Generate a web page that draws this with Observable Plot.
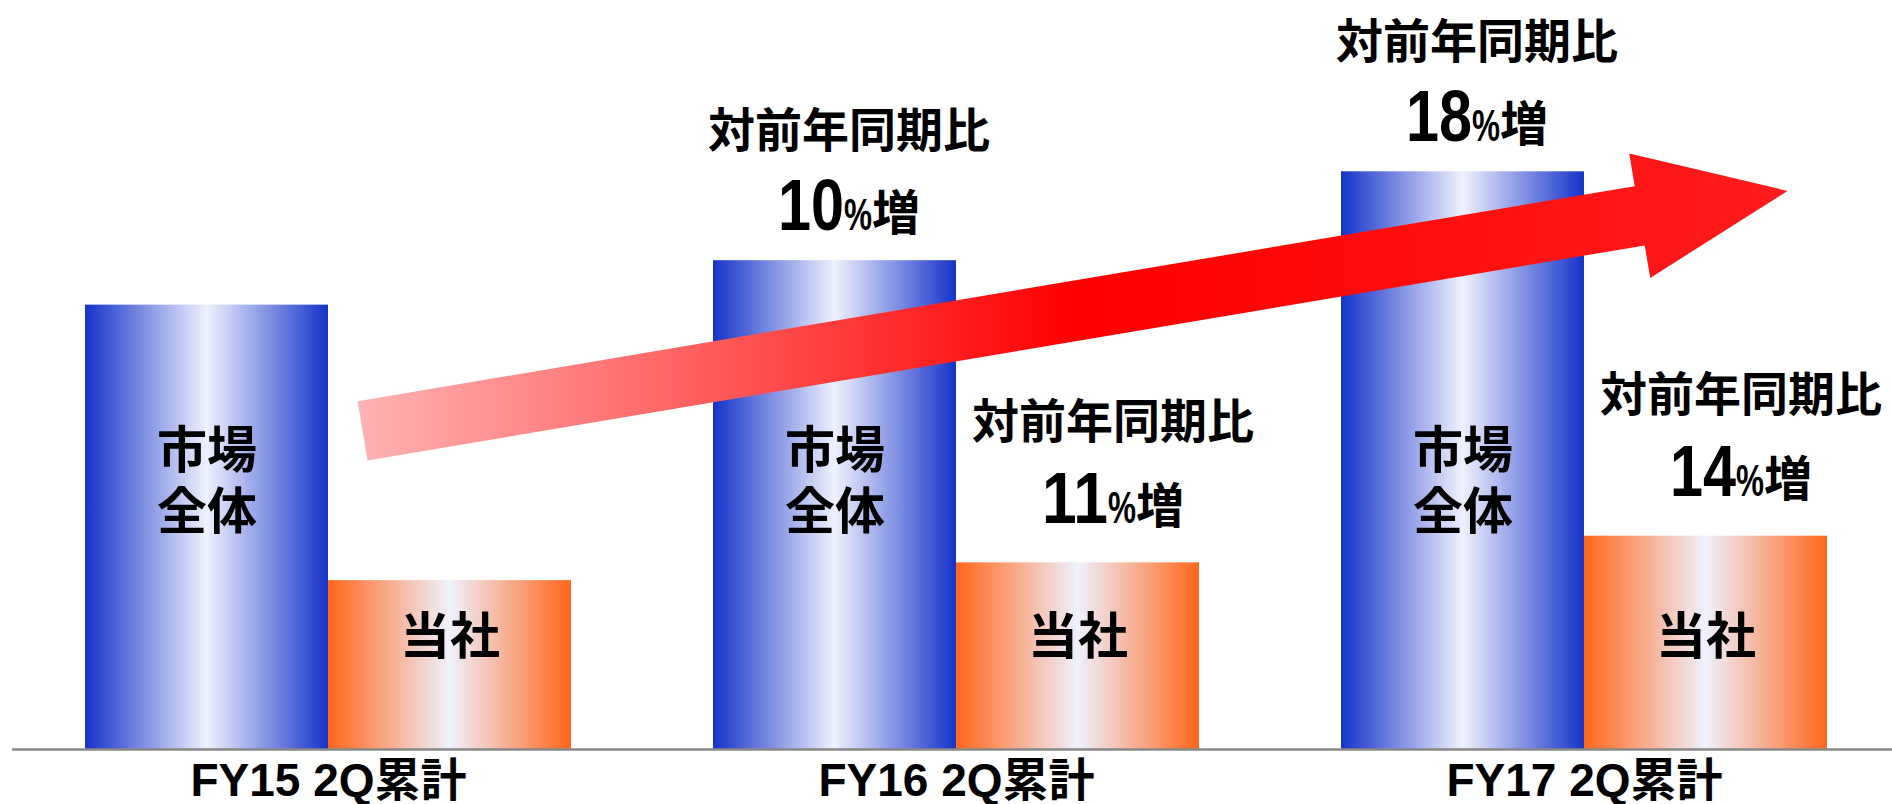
<!DOCTYPE html>
<html>
<head>
<meta charset="utf-8">
<script src="https://cdn.jsdelivr.net/npm/d3@7"></script>
<script src="https://cdn.jsdelivr.net/npm/@observablehq/plot@0.6"></script>
<style>
  html, body { margin: 0; padding: 0; background: #fff; }
  #chart { width: 1892px; height: 804px; }
</style>
</head>
<body>
<div id="chart"></div>
<script>
// ---- data ----
const periods = ["FY15 2Q累計", "FY16 2Q累計", "FY17 2Q累計"];
const seriesNames = ["市場全体", "当社"];
const marketValues = [100, 110, 130];
const companyValues = [38, 42, 48];
const marketGrowth = ["", "10%増", "18%増"];
const companyGrowth = ["", "11%増", "14%増"];
const growthCaption = "対前年同期比";
const insideLabels = ["市場\n全体", "当社"];
const arrowFrom = {period: periods[0], value: 71.6};
const arrowTo = {period: periods[2], value: 125.6};

// ---- layout ----
const W = 1892, H = 804, ML = 12, MR = 0, MT = 38, MB = 55;
const xScaleOptions = {type: "band", domain: periods, paddingInner: 0.2267, paddingOuter: 0.1089, align: 0.53};
const yScaleOptions = {domain: [0, 160]};
const xs = Plot.scale({x: {...xScaleOptions, range: [ML, W - MR]}});
const ys = Plot.scale({y: {...yScaleOptions, range: [H - MB, MT]}});
const half = xs.bandwidth / 2;

const market = periods.map((p, i) => ({period: p, series: seriesNames[0], value: marketValues[i], growth: marketGrowth[i]}));
const company = periods.map((p, i) => ({period: p, series: seriesNames[1], value: companyValues[i], growth: companyGrowth[i]}));

const LATIN = '"Liberation Sans",Arial';
const CJK = '"Noto Sans CJK JP","Noto Sans CJK SC",sans-serif';
const FONT = LATIN + "," + CJK;

function defs() {
  const d = d3.create("svg:defs");
  const lg = (id, stops) => {
    const g = d.append("linearGradient").attr("id", id)
      .attr("x1", "0").attr("x2", "1").attr("y1", "0").attr("y2", "0");
    stops.forEach(([o, c]) => g.append("stop").attr("offset", o).attr("stop-color", c));
  };
  lg("gBlue", [[0, "#1533c9"], [0.5, "#eff1fd"], [1, "#1533c9"]]);
  lg("gOrange", [[0, "#ff661a"], [0.5, "#eff1fd"], [1, "#ff661a"]]);
  lg("gArrow", [[0, "#ffb4b4"], [0.5, "#ff0000"], [1, "#ff1c1c"]]);
  return d.node();
}

function arrowMark(index, scales) {
  // use the chart's own x / y scales
  const px = v => xs.apply(v), py = v => ys.apply(v);
  const bw = xs.bandwidth;
  const sx = px(arrowFrom.period) + bw / 2 + 35, sy = py(arrowFrom.value);
  const tx = px(arrowTo.period) + bw / 2 + 203, ty = py(arrowTo.value);
  const L = Math.hypot(tx - sx, ty - sy);
  const ux = (tx - sx) / L, uy = (ty - sy) / L;
  const nx = -uy, ny = ux;
  const w = 30, hw = 63, hl = 150;
  const bx = tx - ux * hl, by = ty - uy * hl;
  const pts = [
    [sx + nx * w, sy + ny * w],
    [bx + nx * w, by + ny * w],
    [bx + nx * hw, by + ny * hw],
    [tx, ty],
    [bx - nx * hw, by - ny * hw],
    [bx - nx * w, by - ny * w],
    [sx - nx * w, sy - ny * w]
  ];
  return d3.create("svg:path")
    .attr("d", "M" + pts.map(p => p.map(v => v.toFixed(1)).join(",")).join("L") + "Z")
    .attr("fill", "url(#gArrow)")
    .node();
}

const chart = Plot.plot({
  width: W, height: H,
  marginLeft: ML, marginRight: MR, marginTop: MT, marginBottom: MB,
  x: {...xScaleOptions, label: null},
  y: {...yScaleOptions, axis: null},
  style: {fontFamily: FONT, background: "white", color: "black"},
  marks: [
    defs,
    Plot.barY(market, {x: "period", y: "value", fill: "url(#gBlue)", insetRight: half}),
    Plot.barY(company, {x: "period", y: "value", fill: "url(#gOrange)", insetLeft: half}),
    Plot.ruleY([0], {stroke: "#888888", strokeWidth: 2.5}),
    arrowMark,
    Plot.text(periods, {x: d => d, y: () => 60.8, text: () => insideLabels[0], dx: -half / 2,
      fontSize: 50, fontWeight: "bold", fontFamily: CJK, lineHeight: 1.22, fill: "black"}),
    Plot.text(periods, {x: d => d, y: () => 25.2, text: () => insideLabels[1], dx: half / 2,
      fontSize: 50, fontWeight: "bold", fontFamily: CJK, fill: "black"}),
    Plot.text(market.filter(d => d.growth), {x: "period", y: "value", text: () => growthCaption,
      dx: -half / 2 + 14, dy: -129, fontSize: 47, fontWeight: "bold", fontFamily: CJK, fill: "black"}),
    Plot.text(market.filter(d => d.growth), {x: "period", y: "value", text: "growth",
      dx: -half / 2 + 14, dy: -54, fontSize: 72, fontWeight: "bold", fontFamily: FONT, fill: "black"}),
    Plot.text(company.filter(d => d.growth), {x: "period", y: "value", text: () => growthCaption,
      dx: half / 2 + 35, dy: -140, fontSize: 47, fontWeight: "bold", fontFamily: CJK, fill: "black"}),
    Plot.text(company.filter(d => d.growth), {x: "period", y: "value", text: "growth",
      dx: half / 2 + 35, dy: -63, fontSize: 72, fontWeight: "bold", fontFamily: FONT, fill: "black"}),
    Plot.axisX({tickSize: 0, tickPadding: 14, fontSize: 46, fontWeight: "bold", fontFamily: FONT, fill: "black", label: null})
  ]
});

// split "NN%増" into differently sized (narrow) runs
d3.select(chart).selectAll("text").each(function() {
  const m = /^(\d+)(%)(増)$/.exec(this.textContent);
  if (!m) return;
  const sel = d3.select(this);
  sel.text("");
  sel.append("tspan").text(m[1]).attr("font-family", LATIN)
    .attr("textLength", 33 * m[1].length).attr("lengthAdjust", "spacingAndGlyphs");
  sel.append("tspan").text(m[2]).attr("font-size", 44).attr("font-family", LATIN)
    .attr("textLength", 28).attr("lengthAdjust", "spacingAndGlyphs");
  sel.append("tspan").text(m[3]).attr("font-size", 48).attr("font-family", CJK);
});

document.getElementById("chart").appendChild(chart);
</script>
</body>
</html>
